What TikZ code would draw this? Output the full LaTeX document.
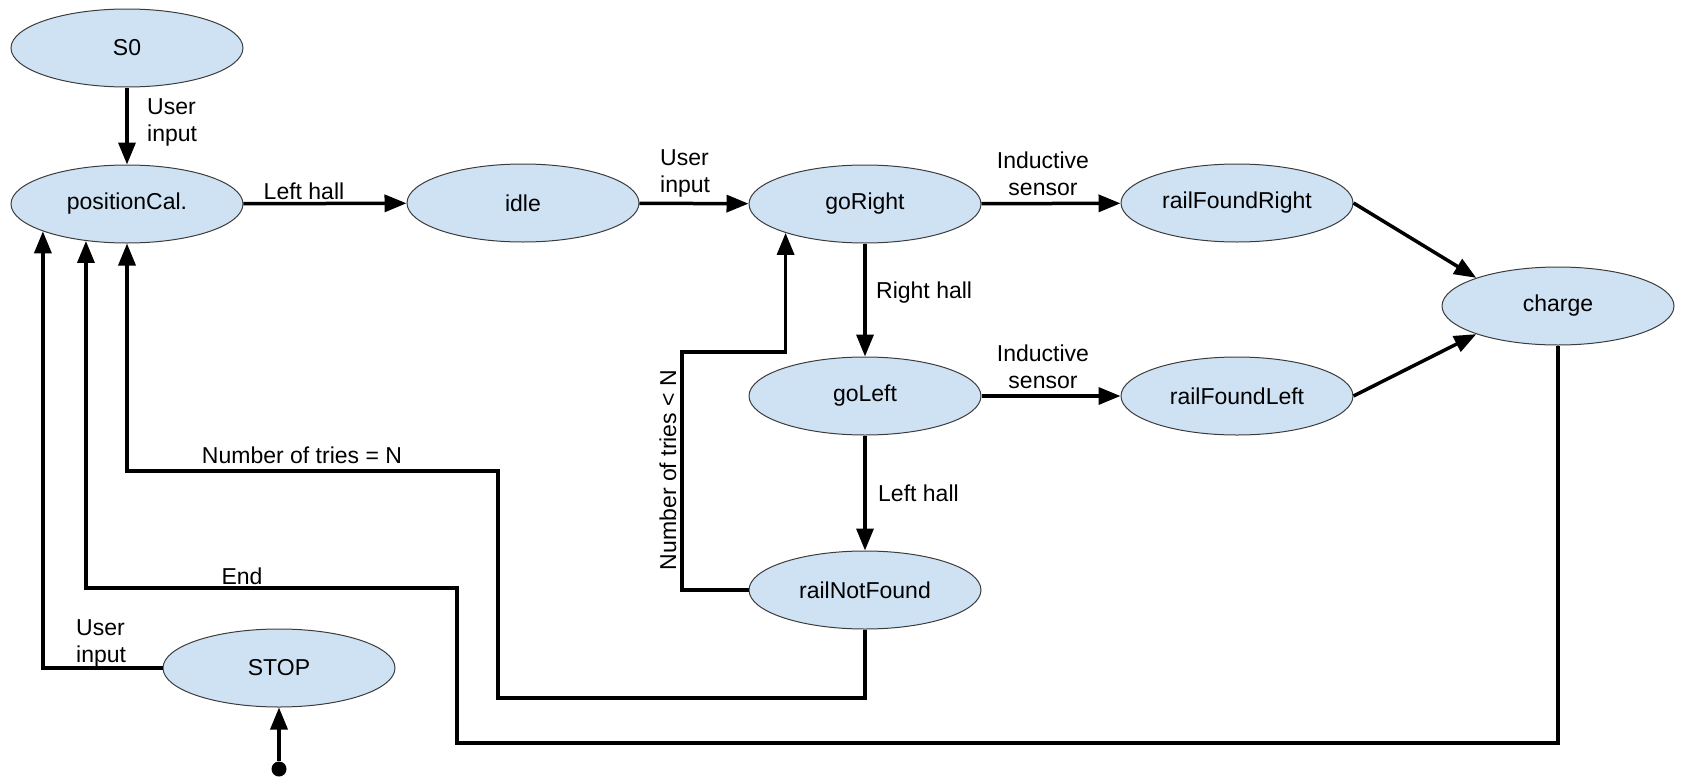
\documentclass[tikz,border=0pt]{standalone}
\usepackage{fontspec}
\setmainfont{Liberation Sans}
\usetikzlibrary{arrows.meta,shapes.geometric,calc}
\definecolor{stfill}{HTML}{CFE2F3}
\definecolor{stborder}{HTML}{3C3C3C}
\begin{document}
\begin{tikzpicture}[x=1pt,y=-1pt,
  state/.style={ellipse, draw=stborder, line width=1pt, fill=stfill,
    minimum width=232pt, minimum height=78pt, inner sep=0pt,
    font=\fontsize{23}{27}\selectfont},
  arr/.style={line width=3.5pt, -{Triangle[length=22pt,width=17pt]}},
  conn/.style={line width=3.5pt},
  lbl/.style={inner sep=0pt, font=\fontsize{23}{27}\selectfont}]
\useasboundingbox (0,0) rectangle (1682,779);

% states
\node[state] (s0)     at (127,48)   {S0};
\node[state] (pos)    at (127,204)  {positionCal.};
\node[state] (idle)   at (523,203)  {idle};
\node[state] (goR)    at (865,204)  {goRight};
\node[state] (rfr)    at (1237,203) {railFoundRight};
\node[state] (charge) at (1558,306) {charge};
\node[state] (goL)    at (865,396)  {goLeft};
\node[state] (rfl)    at (1237,396) {railFoundLeft};
\node[state] (rnf)    at (865,590)  {railNotFound};
\node[state] (stop)   at (279,668)  {STOP};
\node[circle, fill=black, inner sep=0pt, minimum size=15pt] (init) at (279,769) {};

% bend coordinates
\coordinate (c1) at (682,352);
\coordinate (c2) at (498,698);
\coordinate (c3) at (127,471);
\coordinate (c4) at (457,743);
\coordinate (c5) at (87,588);

% straight transitions
\draw[arr] (s0) -- (pos);
\draw[arr] (pos) -- (idle);
\draw[arr] (idle) -- (goR);
\draw[arr] (goR) -- (rfr);
\draw[arr] (goR) -- (goL);
\draw[arr] (goL) -- (rfl);
\draw[arr] (goL) -- (rnf);
\draw[arr] (rfr.east) -- (charge.161);
\draw[arr] (rfl.east) -- (charge.199);
\draw[arr] (init) -- (stop);

% routed transitions
\draw[arr] (rnf.west) -| (c1) -| (goR.200);
\draw[arr] (rnf.south) |- (c2) |- (c3) -- (pos.south);
\draw[arr] (charge.south) |- (c4) |- (c5) -| (pos.222.5);
\draw[arr] (stop.west) -| (pos.198.6);

% labels
\node[lbl, anchor=west, align=left] (l1) at (147,122) {User\\input};
\node[lbl, anchor=base] (l2) at (304,199) {Left hall};
\node[lbl, anchor=west, align=left] (l3) at (660,173) {User\\input};
\node[lbl, align=center] (l4) at (1043,174) {Inductive\\sensor};
\node[lbl, anchor=base west] (l5) at (876,298) {Right hall};
\node[lbl, align=center] (l6) at (1043,367) {Inductive\\sensor};
\node[lbl, anchor=base west] (l7) at (878,501) {Left hall};
\node[lbl, rotate=90] (l8) at (668,470) {Number of tries < N};
\node[lbl, anchor=base] (l9) at (302,463) {Number of tries = N};
\node[lbl, anchor=base] (l10) at (242,584) {End};
\node[lbl, anchor=west, align=left] (l11) at (76,643) {User\\input};
\end{tikzpicture}
\end{document}
